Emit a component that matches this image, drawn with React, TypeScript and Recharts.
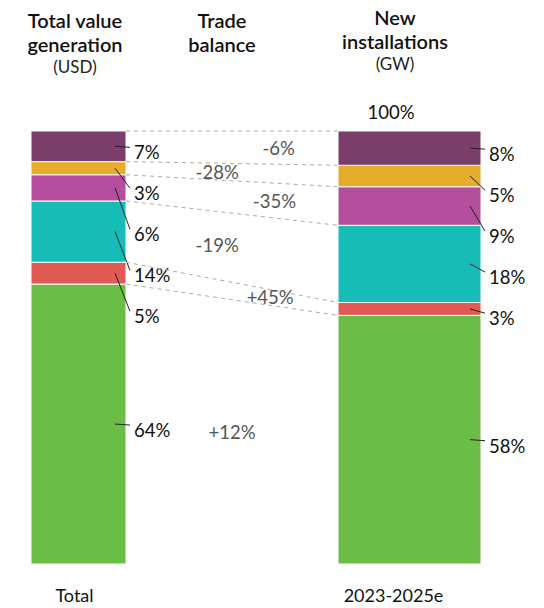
import React from 'react'
import { BarChart, Bar, XAxis, YAxis, LabelList, LineChart, Line, ReferenceDot } from 'recharts'

// stack order, bottom to top
const segments = ['green', 'red', 'teal', 'magenta', 'yellow', 'purple']
const segmentColors = ['#6cbd46', '#e05b54', '#16bcb6', '#b54f9d', '#e5ad29', '#7b3e6a']

const totalShares = [64, 5, 14, 6, 3, 7]
const newShares = [58, 3, 18, 9, 5, 8]
const tradeBalance = ['+12%', '+45%', '-19%', '-35%', '-28%', '-6%']
// where along the connector each trade balance label sits (0 = left bar, 1 = right bar)
const balanceLabelPos = [0.5, 0.68, 0.43, 0.7, 0.43, 0.72]

const totalCategory = 'Total'
const newCategory = '2023-2025e'
const newTotalLabel = '100%'

const FONT = 'Lato, "Open Sans", sans-serif'

const toRow = (name: string, shares: number[]) => {
  const row: any = { name }
  segments.forEach((k, i) => { row[k] = shares[i] })
  return row
}

// normalized upper bound of each segment
const upperBounds = (shares: number[]) => {
  const sum = shares.reduce((a, b) => a + b, 0)
  let acc = 0
  return shares.map(v => { acc += v; return acc / sum })
}

const lowerBounds = (shares: number[]) => {
  const hi = upperBounds(shares)
  return hi.map((v, i) => (i ? hi[i - 1] : 0))
}

const makeLeader = (shares: number[], seg: number) => (props: any) => {
  const { x, y, width, height } = props
  if (!height) return null
  const hi = upperBounds(shares)
  const lo = lowerBounds(shares)
  const k = height / (hi[seg] - lo[seg])
  const base = y + height + lo[seg] * k
  const py = (v: number) => base - v * k
  // push labels down so they don't overlap
  const ys: number[] = []
  let prev = -Infinity
  for (let i = shares.length - 1; i >= 0; i--) {
    const c = py((lo[i] + hi[i]) / 2)
    const ly = Math.max(c + 6, prev + 41)
    ys[i] = ly
    prev = ly
  }
  const cy = py((lo[seg] + hi[seg]) / 2)
  const right = x + width
  return (
    <g>
      <line x1={right - 11} y1={cy} x2={right + 4} y2={ys[seg] - 5} stroke="#222" strokeWidth={1} />
      <text x={right + 8} y={ys[seg]} dominantBaseline="central" fill="#111" fontSize={18.5} fontFamily={FONT}>
        {`${shares[seg]}%`}
      </text>
    </g>
  )
}

function StackChart({ name, shares, width, left, tickDx }: any) {
  return (
    <BarChart
      width={width}
      height={608}
      data={[toRow(name, shares)]}
      stackOffset="expand"
      barCategoryGap={0}
      margin={{ top: 131, right: width - left - (name === totalCategory ? 95 : 143), left, bottom: 0 }}
    >
      <XAxis
        dataKey="name"
        height={44}
        axisLine={false}
        tickLine={false}
        tickMargin={19}
        tick={{ fill: '#111', fontSize: 18, fontFamily: FONT, dx: tickDx }}
      />
      <YAxis hide />
      {segments.map((key, i) => (
        <Bar key={key} dataKey={key} stackId="a" fill={segmentColors[i]} stroke="#fff" strokeWidth={1} isAnimationActive={false}>
          <LabelList content={makeLeader(shares, i)} />
        </Bar>
      ))}
    </BarChart>
  )
}

const hiL = upperBounds(totalShares)
const hiR = upperBounds(newShares)
const loL = lowerBounds(totalShares)
const loR = lowerBounds(newShares)

const connectorData = [0, 1].map(x => {
  const row: any = { x }
  segments.forEach((_, i) => { row[`b${i}`] = x === 0 ? hiL[i] : hiR[i] })
  return row
})

const balanceLabels = tradeBalance.map((label, i) => {
  const l = (loL[i] + hiL[i]) / 2
  const r = (loR[i] + hiR[i]) / 2
  const t = balanceLabelPos[i]
  return { label, x: t, y: l + (r - l) * t }
})

const Header = ({ lines, sub, center, top }: any) => (
  <div style={{ position: 'absolute', left: center - 90, top, width: 180, textAlign: 'center', fontFamily: FONT, color: '#111' }}>
    {lines.map((l: string) => (
      <div key={l} style={{ fontSize: 20, fontWeight: 600, lineHeight: '24px' }}>{l}</div>
    ))}
    {sub && <div style={{ fontSize: 17, lineHeight: '22px', color: '#222' }}>{sub}</div>}
  </div>
)

export default function App() {
  return (
    <div style={{ position: 'absolute', left: 0, top: 0, width: 544, height: 608, background: '#fff' }}>
      <Header lines={['Total value', 'generation']} sub="(USD)" center={75} top={8} />
      <Header lines={['Trade', 'balance']} center={222} top={8} />
      <Header lines={['New', 'installations']} sub="(GW)" center={395} top={5} />
      <div style={{ position: 'absolute', left: 341, top: 101, width: 100, textAlign: 'center', fontFamily: FONT, fontSize: 18.5, color: '#111' }}>
        {newTotalLabel}
      </div>

      <div style={{ position: 'absolute', left: 0, top: 0 }}>
        <StackChart name={totalCategory} shares={totalShares} width={190} left={31} tickDx={-4} />
      </div>

      <div style={{ position: 'absolute', left: 126, top: 0 }}>
        <LineChart width={212} height={608} data={connectorData} margin={{ top: 131, right: 0, left: 0, bottom: 44 }}>
          <XAxis dataKey="x" type="number" domain={[0, 1]} hide />
          <YAxis type="number" domain={[0, 1]} hide />
          {segments.map((key, i) => (
            <Line
              key={key}
              dataKey={`b${i}`}
              stroke="#aaa"
              strokeWidth={1}
              strokeDasharray="4 4"
              dot={false}
              activeDot={false}
              isAnimationActive={false}
            />
          ))}
          {balanceLabels.map(b => (
            <ReferenceDot
              key={b.label}
              x={b.x}
              y={b.y}
              r={1}
              shape={(p: any) => (
                <text x={p.cx} y={p.cy} textAnchor="middle" dominantBaseline="central" fill="#555" fontSize={18.5} fontFamily={FONT}>
                  {b.label}
                </text>
              )}
            />
          ))}
        </LineChart>
      </div>

      <div style={{ position: 'absolute', left: 300, top: 0 }}>
        <StackChart name={newCategory} shares={newShares} width={244} left={38} tickDx={-16} />
      </div>
    </div>
  )
}
